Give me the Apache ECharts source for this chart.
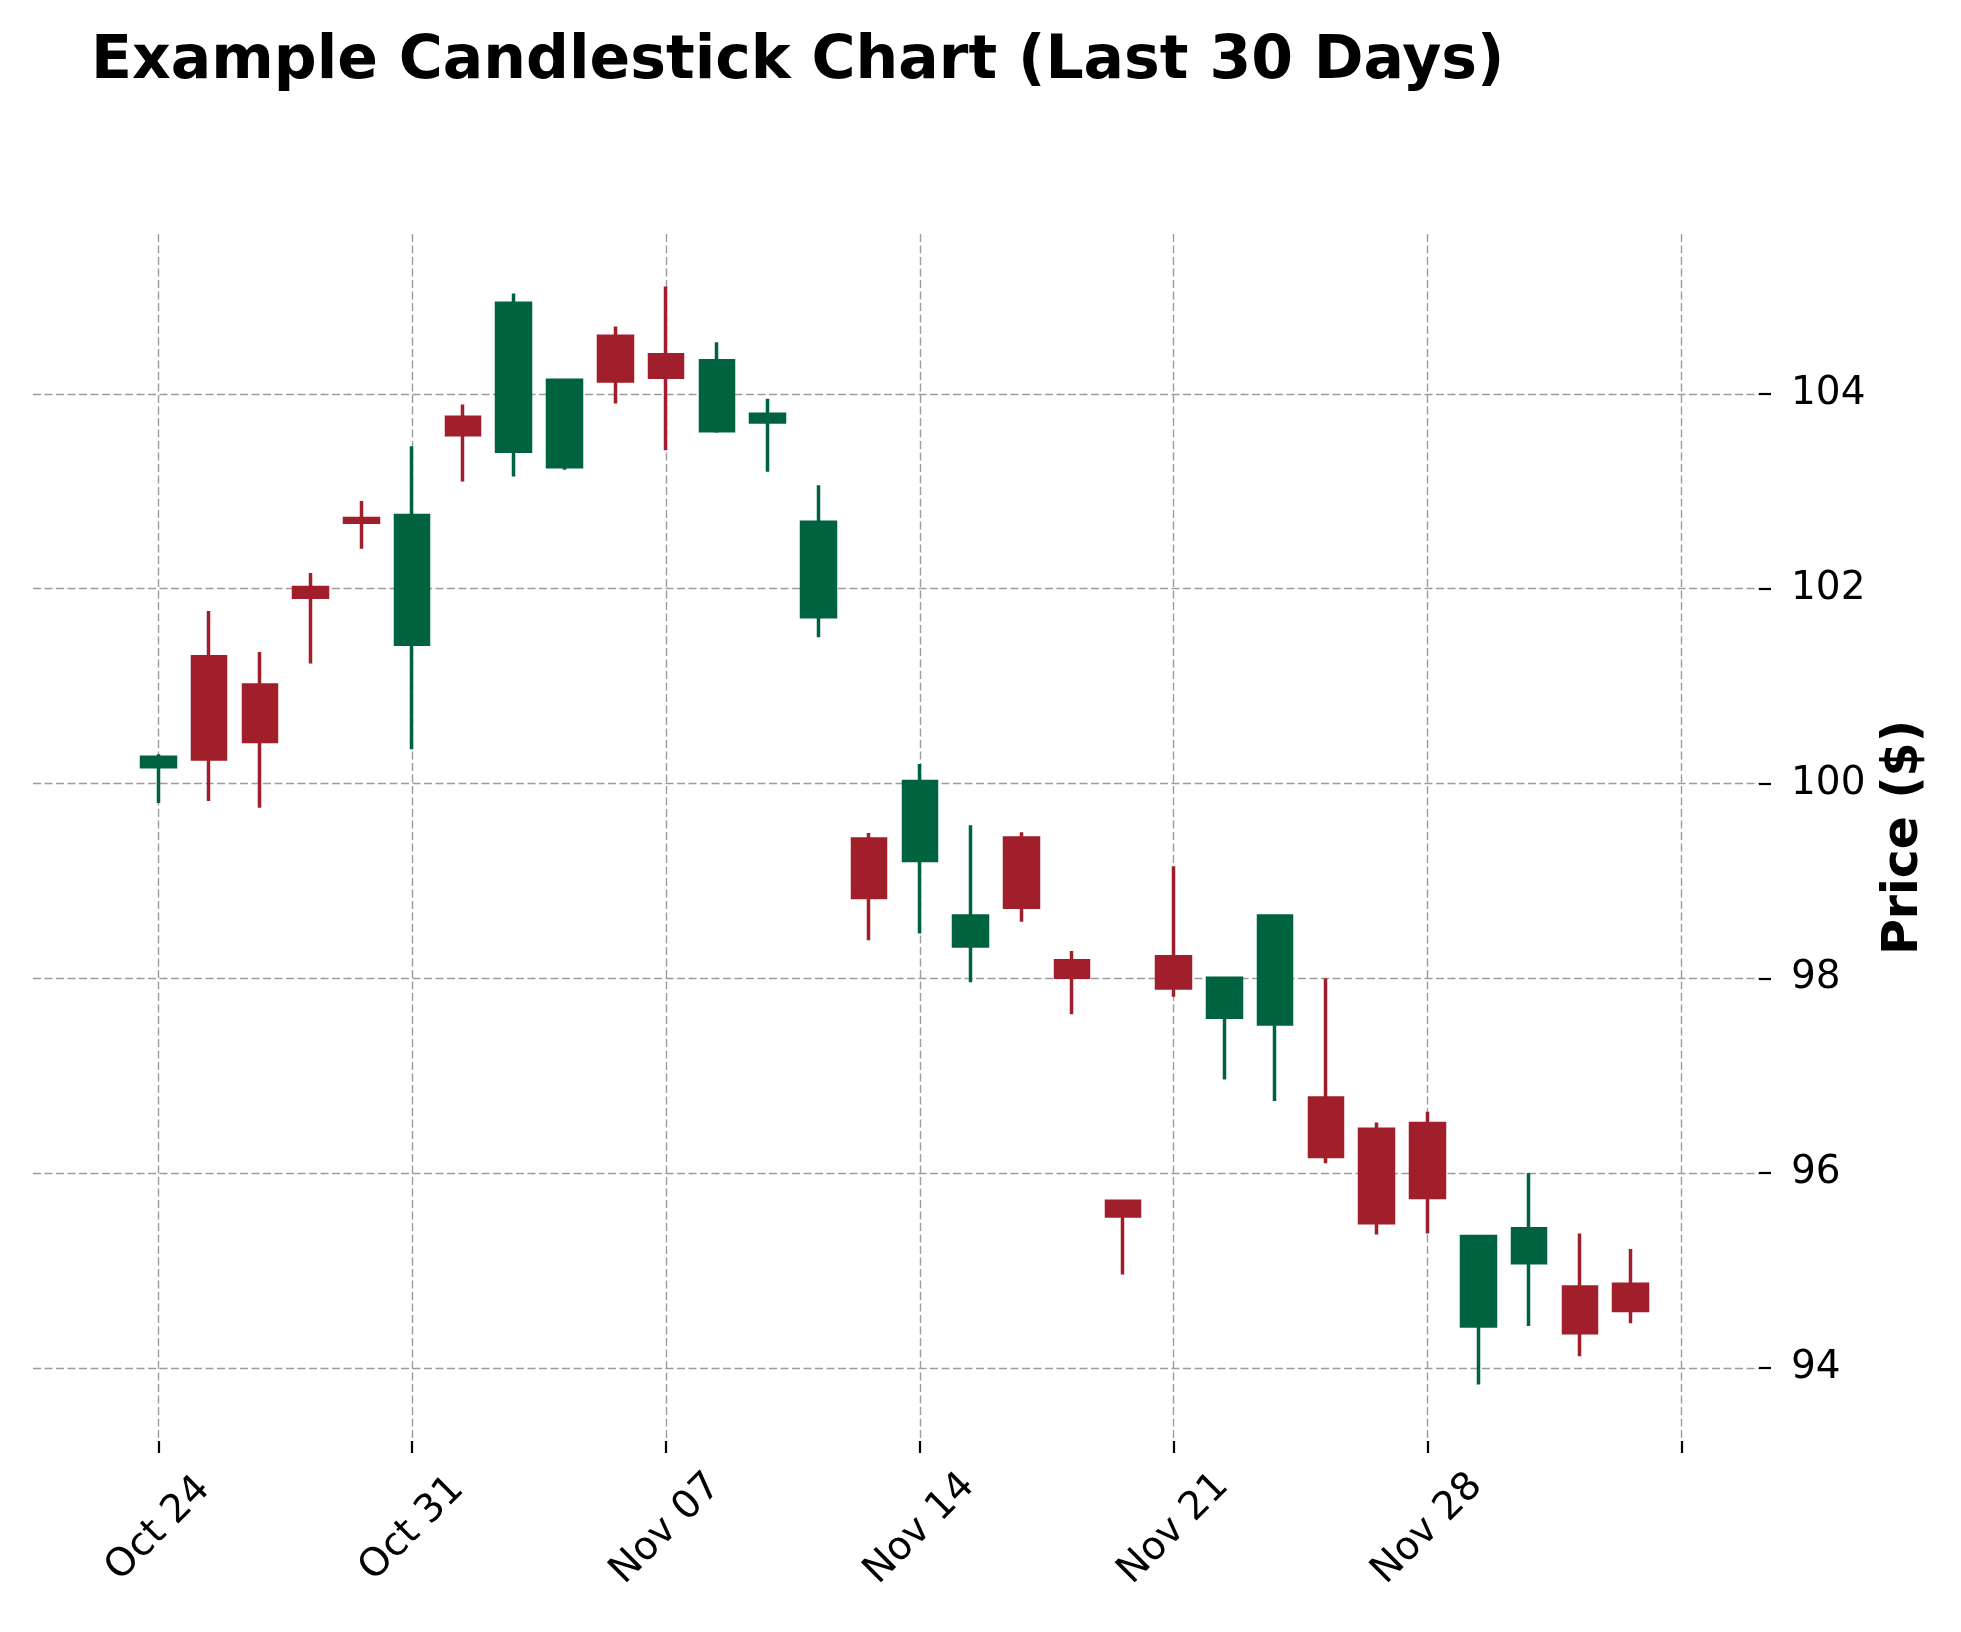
<!DOCTYPE html>
<html>
<head>
<meta charset="utf-8">
<script src="https://cdn.jsdelivr.net/npm/echarts@6/dist/echarts.min.js"></script>
<style>
  html, body { margin: 0; padding: 0; background: #ffffff; }
  #chart { width: 1961px; height: 1632px; }
</style>
</head>
<body>
<div id="chart"></div>
<script>
// ---- Data ----
const dates = ['Oct 24','Oct 25','Oct 26','Oct 27','Oct 28',
               'Oct 31','Nov 01','Nov 02','Nov 03','Nov 04',
               'Nov 07','Nov 08','Nov 09','Nov 10','Nov 11',
               'Nov 14','Nov 15','Nov 16','Nov 17','Nov 18',
               'Nov 21','Nov 22','Nov 23','Nov 24','Nov 25',
               'Nov 28','Nov 29','Nov 30','Dec 01','Dec 02'];
const openPrices  = [100.17,101.30,101.01,102.01,102.72, 101.43,103.76,103.41,103.25,104.59,
                     104.40,103.62,103.71,101.71, 99.43,  99.21, 98.33, 99.44, 98.18, 95.71,
                      98.22, 97.60, 97.53, 96.77, 96.45,  96.51, 94.43, 95.08, 94.83, 94.86];
const closePrices = [100.27,100.25,100.43,101.91,102.68, 102.75,103.58,104.93,104.14,104.13,
                     104.17,104.34,103.79,102.68, 98.83, 100.02, 98.64, 98.73, 98.01, 95.56,
                      97.90, 98.00, 98.64, 96.17, 95.49,  95.75, 95.35, 95.43, 94.36, 94.59];
const lowPrices   = [ 99.80, 99.82, 99.75,101.23,102.41, 100.35,103.10,103.15,103.22,103.90,
                     103.42,103.60,103.20,101.50, 98.39,  98.46, 97.96, 98.58, 97.63, 94.96,
                      97.81, 96.96, 96.74, 96.10, 95.37,  95.38, 93.83, 94.43, 94.12, 94.46];
const highPrices  = [100.30,101.77,101.35,102.16,102.90, 103.46,103.89,105.03,104.14,104.69,
                     105.10,104.53,103.95,103.06, 99.49, 100.20, 99.57, 99.50, 98.28, 95.73,
                      99.15, 98.00, 98.65, 98.00, 96.52,  96.63, 95.35, 96.00, 95.38, 95.22];

const xTickPositions = [0, 5, 10, 15, 20, 25, 30];
const xTickLabels    = ['Oct 24', 'Oct 31', 'Nov 07', 'Nov 14', 'Nov 21', 'Nov 28', ''];
const yTickValues    = [94, 96, 98, 100, 102, 104];

// ---- Build series data from the arrays ----
const candleData = dates.map((d, i) => [i, openPrices[i], closePrices[i], lowPrices[i], highPrices[i]]);

const UP = '#006340';
const DOWN = '#a11f2a';
const FONT = "'DejaVu Sans', sans-serif";

const chart = echarts.init(document.getElementById('chart'), null, { renderer: 'canvas' });

const gridStyle = { color: '#9c9c9c', width: 1.4, type: [8, 3.5] };

chart.setOption({
  animation: false,
  backgroundColor: '#ffffff',
  title: {
    text: 'Example Candlestick Chart (Last 30 Days)',
    left: 86,
    top: 27,
    textStyle: { fontFamily: FONT, fontWeight: 'bold', fontSize: 60, color: '#000000' }
  },
  grid: { left: 33, right: 202, top: 234, bottom: 191, containLabel: false },
  xAxis: {
    type: 'value',
    min: -2.47,
    max: 31.53,
    axisLine: { show: false, onZero: false },
    axisTick: { show: true, length: 12, lineStyle: { color: '#000', width: 2.2 }, customValues: xTickPositions },
    axisLabel: {
      customValues: xTickPositions,
      rotate: 45,
      align: 'center',
      verticalAlign: 'middle',
      margin: 88,
      fontFamily: FONT,
      fontSize: 39,
      color: '#000',
      formatter: v => {
        const k = xTickPositions.indexOf(Math.round(v));
        return k >= 0 ? xTickLabels[k] : '';
      }
    },
    splitLine: { show: true, lineStyle: gridStyle }
  },
  yAxis: {
    type: 'value',
    position: 'right',
    min: 93.25,
    max: 105.64,
    scale: true,
    name: 'Price ($)',
    nameLocation: 'middle',
    nameRotate: 90,
    nameGap: 121,
    nameTextStyle: { fontFamily: FONT, fontWeight: 'bold', fontSize: 49, color: '#000' },
    axisLine: { show: false, onZero: false },
    axisTick: { show: true, length: 12, lineStyle: { color: '#000', width: 2.2 }, customValues: yTickValues },
    axisLabel: { customValues: yTickValues, margin: 32, fontFamily: FONT, fontSize: 39, color: '#000' },
    splitLine: { show: true, lineStyle: gridStyle }
  },
  series: [{
    type: 'candlestick',
    data: candleData,
    encode: { x: 0, y: [1, 2, 3, 4] },
    barWidth: 34,
    itemStyle: {
      color: UP, color0: DOWN,
      borderColor: UP, borderColor0: DOWN,
      borderWidth: 3.5
    }
  }]
});
</script>
</body>
</html>
